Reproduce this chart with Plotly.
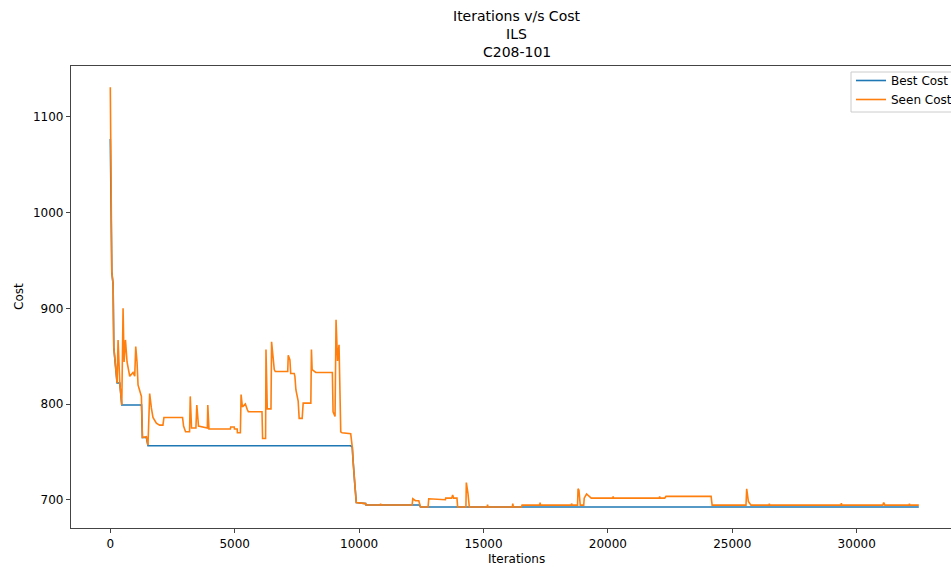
import plotly.graph_objects as go

# Seen cost (orange) breakpoints: iteration, cost
seen_iter = [0, 10, 25, 60, 112, 140, 180, 272, 312, 381, 461, 513, 553, 609, 673, 781, 913, 981, 1022, 1074,
             1114, 1250, 1290, 1450, 1514, 1582, 1650, 1715, 1851, 1983, 2115, 2155, 2904, 2944, 3024, 3185,
             3213, 3265, 3440, 3477, 3545, 3900, 3918, 3966, 4827, 4840, 4980, 4988, 5100, 5108, 5228, 5256,
             5308, 5428, 5508, 5548, 6097, 6121, 6241, 6257, 6309, 6458, 6482, 6590, 6630, 7131, 7151, 7219,
             7251, 7391, 7419, 7459, 7551, 7591, 7712, 7752, 8060, 8084, 8112, 8260, 8925, 8953, 9033, 9073,
             9133, 9193, 9262, 9314, 9662, 9726, 9754, 9794, 9834, 9887, 10263, 10275, 10850, 10864, 10880,
             12130, 12158, 12266, 12399, 12467, 12771, 12799, 13468, 13480, 13720, 13760, 13800, 13933, 13961,
             14293, 14309, 14374, 14430, 15150, 15163, 15180, 16160, 16176, 16200, 16525, 16550, 17260, 17274,
             17290, 18530, 18540, 18560, 18780, 18800, 18836, 18888, 19028, 19048, 19141, 19277, 19330, 20200,
             20210, 20225, 22070, 22081, 22095, 22282, 22333, 24148, 24189, 25550, 25578, 25646, 25750, 26480,
             26488, 26500, 29370, 29384, 29400, 31050, 31087, 31130, 32110, 32120, 32135, 32497]
seen_cost = [1131, 1078, 990, 938, 925, 859, 848, 822, 867, 822, 799, 900, 844, 867, 844, 829, 833, 829, 860, 844,
             820, 808, 765, 766, 757, 811, 796, 786, 780, 778, 778, 786, 786, 777, 771, 771,
             808, 775, 775, 799, 777, 775, 799, 774, 774, 776, 776, 774, 774, 770, 770, 810,
             797, 800, 794, 792, 792, 764, 764, 857, 795, 795, 865, 836, 834, 834, 851, 846,
             832, 832, 829, 815, 803, 785, 785, 801, 801, 857, 836, 833, 833, 792, 787, 888,
             845, 862, 771, 770, 769, 755, 742, 721, 714, 697, 696, 694.5, 694.5, 696, 694.5,
             694.5, 701, 699, 699, 692.4, 692.4, 701, 700, 701.7, 701.7, 705, 701.7, 701.7, 692.4,
             692.4, 718, 707, 692.4, 692.4, 695, 692.4, 692.4, 696, 692.4, 692.4, 694.4, 694.4, 697,
             694.4, 694.4, 696, 694.4, 694.4, 711.5, 710, 694.4, 694.4, 701.7, 706, 703.5, 701.7, 701.7,
             703.5, 701.7, 701.7, 703.5, 701.7, 701.7, 703.5, 703.5, 694.4, 694.4, 711.5, 698.3, 694.4, 694.4,
             696, 694.4, 694.4, 696.5, 694.4, 694.4, 697, 694.4, 694.4, 696, 694.4, 694.4]

# Best cost (blue) breakpoints
best_iter = [0, 25, 60, 112, 140, 180, 272, 381, 461, 1255, 1290, 1450, 1514, 9662, 9726, 9754, 9794, 9834,
             9887, 10263, 10275, 12430, 12467, 32497]
best_cost = [1077, 990, 938, 925, 859, 848, 822, 822, 799, 799, 765, 765, 756.4, 756.4, 755, 742, 721, 714,
             697, 696, 694.5, 694.5, 692.4, 692.4]

x_ticks = [0, 5000, 10000, 15000, 20000, 25000, 30000]
y_ticks = [700, 800, 900, 1000, 1100]
title_lines = ["Iterations v/s Cost", "ILS", "C208-101"]

FONT = "DejaVu Sans"

fig = go.Figure()
fig.add_trace(go.Scatter(x=best_iter, y=best_cost, mode="lines", name="Best Cost",
                         line=dict(color="#1f77b4", width=1.6)))
fig.add_trace(go.Scatter(x=seen_iter, y=seen_cost, mode="lines", name="Seen Cost",
                         line=dict(color="#ff7f0e", width=1.6)))

W, H = 951, 569
L, T, B = 71, 66, 41
plot_h = H - T - B

def py(pix):
    return (H - B - pix) / plot_h

def px(pix):
    return (pix - L) / (W - L)

annotations = []
for txt, yc in zip(title_lines, [16, 34, 52]):
    annotations.append(dict(text=txt, xref="paper", yref="paper", x=px(516.5), y=py(yc),
                            xanchor="center", yanchor="middle", showarrow=False,
                            font=dict(family=FONT, size=14, color="black")))
annotations.append(dict(text="Iterations", xref="paper", yref="paper", x=px(516.5), y=py(559),
                        xanchor="center", yanchor="middle", showarrow=False,
                        font=dict(family=FONT, size=12, color="black")))
annotations.append(dict(text="Cost", xref="paper", yref="paper", x=px(19), y=py(297), textangle=-90,
                        xanchor="center", yanchor="middle", showarrow=False,
                        font=dict(family=FONT, size=12, color="black")))

# legend frame (matplotlib-style box, cut by the right edge)
shapes = [dict(type="rect", xref="paper", yref="paper", x0=px(851), x1=px(975), y0=py(112), y1=py(72),
               fillcolor="white", line=dict(color="#cccccc", width=1), layer="above")]

fig.update_layout(
    width=W, height=H,
    margin=dict(l=L, r=0, t=T, b=B, autoexpand=False),
    paper_bgcolor="white", plot_bgcolor="white",
    font=dict(family=FONT, size=12, color="black"),
    showlegend=True,
    legend=dict(x=px(851), y=py(66), xanchor="left", yanchor="top",
                bgcolor="rgba(0,0,0,0)", borderwidth=0,
                font=dict(family=FONT, size=12, color="black"),
                tracegroupgap=0, itemwidth=30),
    annotations=annotations,
    shapes=shapes,
    xaxis=dict(range=[-1580, 33790], tickvals=x_ticks, ticktext=[str(v) for v in x_ticks],
               showgrid=False, zeroline=False, showline=True, linecolor="#444444", linewidth=1.2,
               mirror=True, ticks="outside", ticklen=4, tickcolor="#444444",
               tickfont=dict(family=FONT, size=12, color="black")),
    yaxis=dict(range=[670.5, 1153.2], tickvals=y_ticks, ticktext=[str(v) for v in y_ticks],
               showgrid=False, zeroline=False, showline=True, linecolor="#444444", linewidth=1.2,
               mirror=False, ticks="outside", ticklen=4, tickcolor="#444444",
               tickfont=dict(family=FONT, size=12, color="black")),
)

fig.write_html("out.html")
